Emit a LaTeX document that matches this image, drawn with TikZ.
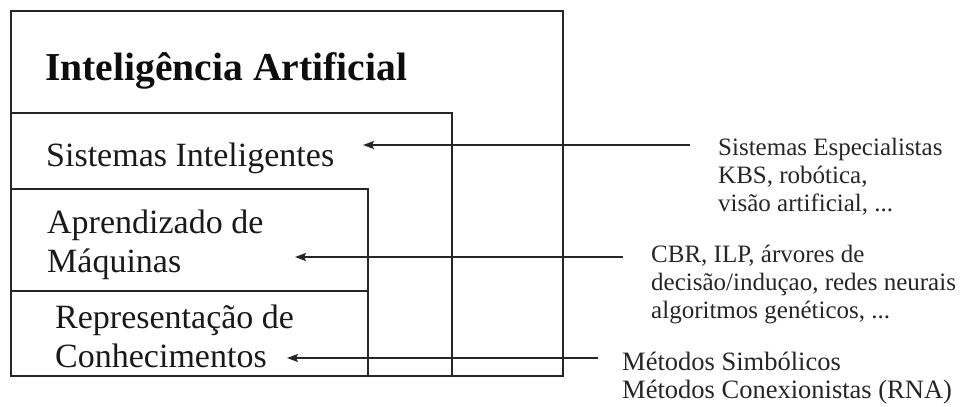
\documentclass[tikz,border=0pt]{standalone}
\usepackage{fontspec}
\setmainfont{Liberation Serif}
\usetikzlibrary{arrows.meta}
\newcommand{\mltext}[1]{\begin{tabular}[t]{@{}l@{}}#1\end{tabular}}
\begin{document}
\begin{tikzpicture}[x=1pt,y=-1pt,
  frame/.style={draw=black!85, line width=1.8pt, inner sep=0pt, outer sep=0pt, anchor=north west},
  conn/.style={draw=black!85, line width=1.6pt, -{Stealth[length=11pt,width=8pt,inset=2pt]}},
  bigtxt/.style={anchor=base west, inner sep=0pt, text=black!90,
    font=\fontsize{34}{39}\selectfont},
  smalltxt/.style={anchor=base west, inner sep=0pt, text=black!85,
    font=\fontsize{25}{28}\selectfont}]
\useasboundingbox (0,0) rectangle (964,407);
% boxes
\node[frame, minimum width=552pt, minimum height=365pt] (ia) at (11,11) {};
\node[frame, minimum width=441pt, minimum height=263pt] (si) at (11,113) {};
\node[frame, minimum width=357pt, minimum height=187pt] (am) at (11,189) {};
\node[frame, minimum width=357pt, minimum height=85pt] (rc) at (11,291) {};
% texts in boxes
\node[anchor=base west, inner sep=0pt, text=black!95,
  font=\fontsize{39.6}{44}\selectfont\bfseries] (tia) at (45,80) {Inteligência Artificial};
\node[bigtxt] (tsi) at (46,166) {Sistemas Inteligentes};
\node[bigtxt] (tam) at (47,233) {\mltext{Aprendizado de\\Máquinas}};
\node[bigtxt] (trc) at (55,328) {\mltext{Representação de\\Conhecimentos}};
% labels on the right
\node[smalltxt] (lsi) at (718,155) {\mltext{Sistemas Especialistas\\KBS, robótica,\\visão artificial, ...}};
\node[smalltxt] (lam) at (651,262) {\mltext{CBR, ILP, árvores de\\decisão/induçao, redes neurais\\algoritmos genéticos, ...}};
\node[smalltxt, font=\fontsize{26.5}{28}\selectfont] (lrc) at (622,370) {\mltext{Métodos Simbólicos\\Métodos Conexionistas (RNA)}};
% connectors
\coordinate (e1) at (690,145); \coordinate (h1) at (363,145);
\coordinate (e2) at (623,257); \coordinate (h2) at (295,257);
\coordinate (e3) at (598,358); \coordinate (h3) at (287,358);
\draw[conn] (e1) -- (h1);
\draw[conn] (e2) -- (h2);
\draw[conn] (e3) -- (h3);
\end{tikzpicture}
\end{document}
